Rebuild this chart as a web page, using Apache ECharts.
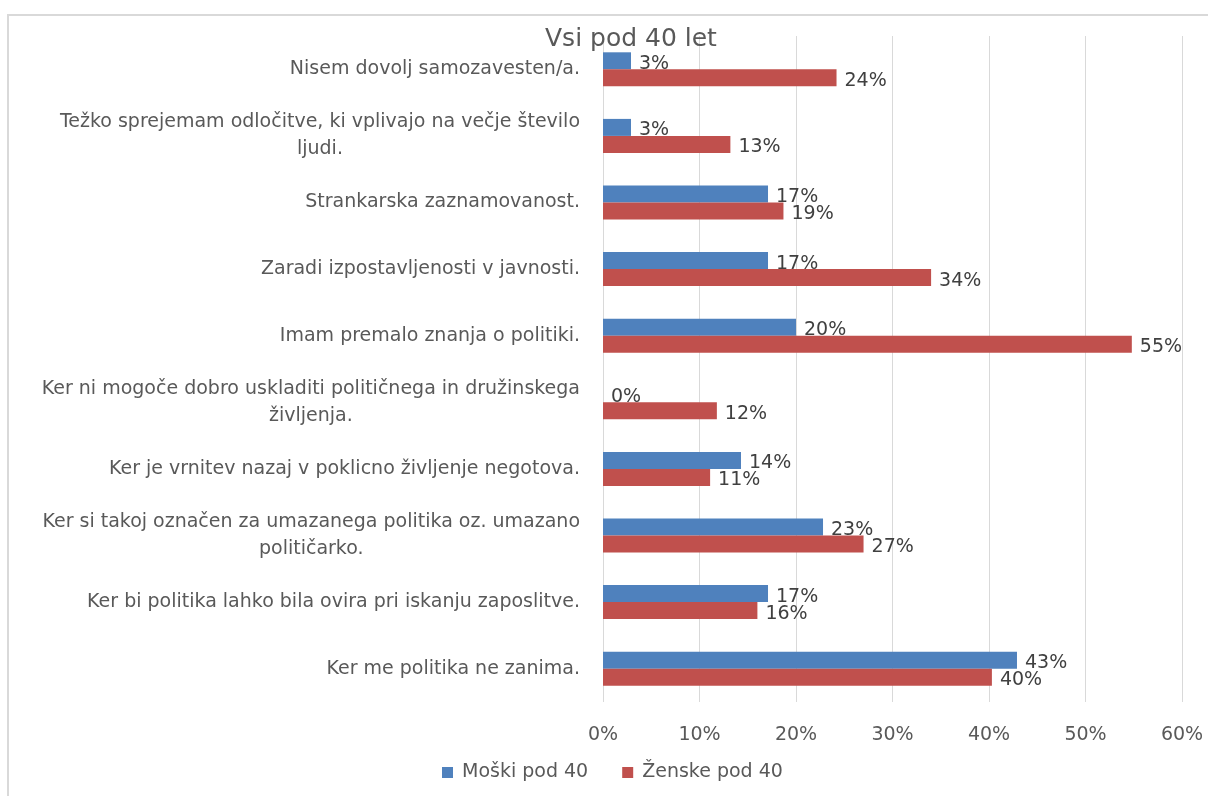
<!DOCTYPE html>
<html>
<head>
<meta charset="utf-8">
<script src="https://cdn.jsdelivr.net/npm/echarts@6/dist/echarts.min.js"></script>
<style>
  body { margin: 0; background: #fff; }
  #frame {
    position: absolute; left: 7px; top: 14px; width: 1220px; height: 800px;
    border: 2px solid #d9d9d9; box-sizing: border-box;
  }
  #chart { position: absolute; left: 0; top: 0; width: 1208px; height: 796px; }
</style>
</head>
<body>
<div id="frame"></div>
<div id="chart"></div>
<script>
// kategorije, od zgoraj navzdol
const categories = [
  "Nisem dovolj samozavesten/a.",
  "Težko sprejemam odločitve, ki vplivajo na večje število\nljudi.",
  "Strankarska zaznamovanost.",
  "Zaradi izpostavljenosti v javnosti.",
  "Imam premalo znanja o politiki.",
  "Ker ni mogoče dobro uskladiti političnega in družinskega\nživljenja.",
  "Ker je vrnitev nazaj v poklicno življenje negotova.",
  "Ker si takoj označen za umazanega politika oz. umazano\npolitičarko.",
  "Ker bi politika lahko bila ovira pri iskanju zaposlitve.",
  "Ker me politika ne zanima."
];
const moski = [2.9, 2.9, 17.1, 17.1, 20.0, 0.0, 14.3, 22.8, 17.1, 42.9];
const zenske = [24.2, 13.2, 18.7, 34.0, 54.8, 11.8, 11.1, 27.0, 16.0, 40.3];
const seriesNames = ["Moški pod 40", "Ženske pod 40"];
const xTicks = [0, 10, 20, 30, 40, 50, 60];

const font = "DejaVu Sans";
const chart = echarts.init(document.getElementById("chart"));

function barSeries(name, data, color) {
  return {
    name: name,
    type: "bar",
    data: data,
    barWidth: 17,
    barGap: "0%",
    itemStyle: { color: color },
    label: {
      show: true,
      position: "right",
      distance: 8,
      offset: [0, 3],
      fontFamily: font,
      fontSize: 19,
      color: "#404040",
      formatter: (p) => Math.round(p.value) + "%"
    }
  };
}

chart.setOption({
  animation: false,
  title: {
    text: "Vsi pod 40 let",
    left: 540,
    top: 22,
    textStyle: { fontFamily: font, fontSize: 25, fontWeight: "normal", color: "#595959" }
  },
  legend: {
    data: seriesNames,
    bottom: 9,
    left: 437,
    itemWidth: 11,
    itemHeight: 11,
    itemGap: 34,
    icon: "rect",
    textStyle: { fontFamily: font, fontSize: 19, color: "#595959", padding: [0, 0, 0, 4] }
  },
  grid: { left: 603, right: 26, top: 36, bottom: 94, containLabel: false },
  xAxis: {
    type: "value",
    min: xTicks[0],
    max: xTicks[xTicks.length - 1],
    interval: 10,
    axisLine: { show: false },
    axisTick: { show: false },
    splitLine: { lineStyle: { color: "#d9d9d9", width: 1 } },
    axisLabel: {
      margin: 24,
      fontFamily: font,
      fontSize: 19,
      color: "#595959",
      formatter: "{value}%"
    }
  },
  yAxis: {
    type: "category",
    data: categories,
    inverse: true,
    axisLine: { show: false },
    axisTick: { show: false },
    axisLabel: {
      margin: 23,
      formatter: (v) => v.split("\n").map((s) => "{c|" + s + "}").join("\n"),
      rich: {
        c: { align: "center", fontFamily: font, fontSize: 19, color: "#595959", lineHeight: 27 }
      }
    }
  },
  series: [
    barSeries(seriesNames[0], moski, "#4f81bd"),
    barSeries(seriesNames[1], zenske, "#c0504d")
  ]
});
</script>
</body>
</html>
